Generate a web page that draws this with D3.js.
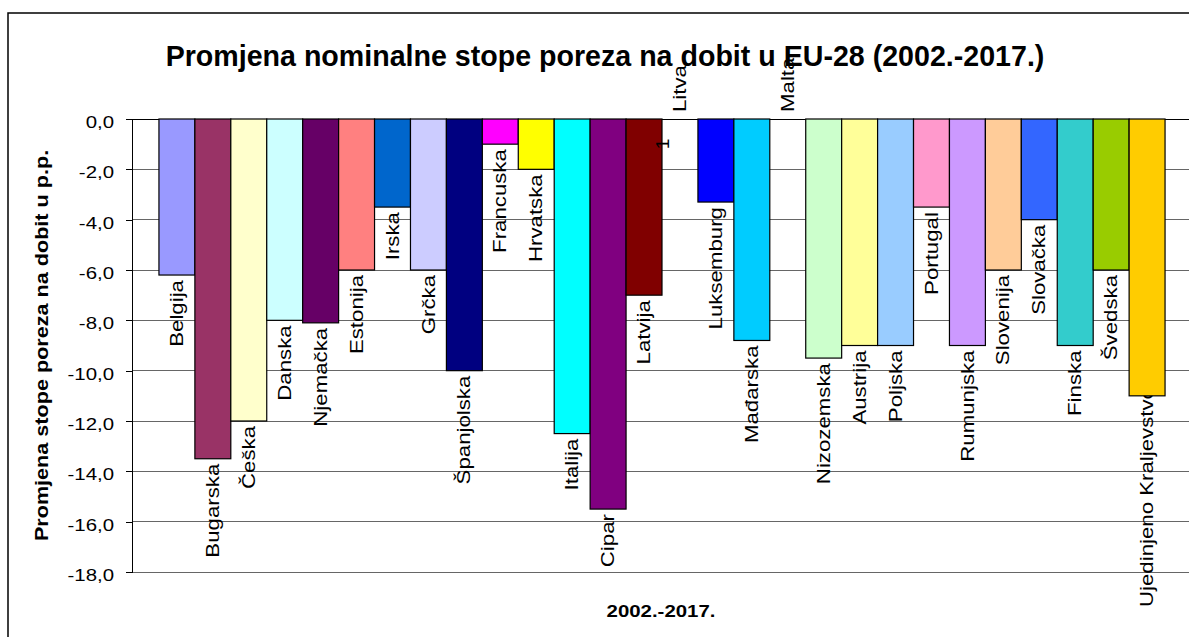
<!DOCTYPE html>
<html>
<head>
<meta charset="utf-8">
<script src="https://cdn.jsdelivr.net/npm/d3@7"></script>
<style>
  body { margin: 0; background: #fff; }
  text { font-family: Arial, "Liberation Sans", sans-serif; fill: #000; }
</style>
</head>
<body>
<svg id="chart" width="1189" height="637"></svg>
<script>
// data
const countries = ["Belgija", "Bugarska", "Češka", "Danska", "Njemačka", "Estonija", "Irska", "Grčka",
  "Španjolska", "Francuska", "Hrvatska", "Italija", "Cipar", "Latvija", "Litva", "Luksemburg",
  "Mađarska", "Malta", "Nizozemska", "Austrija", "Poljska", "Portugal", "Rumunjska", "Slovenija",
  "Slovačka", "Finska", "Švedska", "Ujedinjeno Kraljevstvo"];
const changes = [-6.2, -13.5, -12, -8, -8.1, -6, -3.5, -6, -10, -1, -2, -12.5, -15.5, -7, 0, -3.3,
  -8.8, 0, -9.5, -9, -9, -3.5, -9, -6, -4, -9, -6, -11];
const barColors = ["#9999FF", "#993366", "#FFFFCC", "#CCFFFF", "#660066", "#FF8080", "#0066CC", "#CCCCFF",
  "#000080", "#FF00FF", "#FFFF00", "#00FFFF", "#800080", "#800000", "#008080", "#0000FF",
  "#00CCFF", "#CCFFFF", "#CCFFCC", "#FFFF99", "#99CCFF", "#FF99CC", "#CC99FF", "#FFCC99",
  "#3366FF", "#33CCCC", "#99CC00", "#FFCC00"];
const yTicks = [0, -2, -4, -6, -8, -10, -12, -14, -16, -18];

const titleText = "Promjena nominalne stope poreza na dobit u EU-28 (2002.-2017.)";
const yTitle = "Promjena stope poreza na dobit u p.p.";
const xTitle = "2002.-2017.";

const svg = d3.select('#chart');
const plot = {left: 132, right: 1192, top: 119, bottom: 572};

const x = d3.scaleBand()
  .domain(countries)
  .range([plot.left, plot.right])
  .paddingInner(0)
  .paddingOuter(0.75);
const y = d3.scaleLinear().domain([-18, 0]).range([plot.bottom, plot.top]);

const hr = d3.formatLocale({decimal: ",", thousands: ".", grouping: [3], currency: ["", ""], minus: "-"});
const fmt = hr.format(".1f");

// stretch text a bit, the original font runs wider than Arial
function stretch(sel, k) {
  sel.each(function () {
    const len = this.getComputedTextLength();
    d3.select(this).attr("textLength", len * k).attr("lengthAdjust", "spacingAndGlyphs");
  });
}

// outer frame
svg.append("rect")
  .attr("x", 8).attr("y", 13)
  .attr("width", 1300).attr("height", 700)
  .attr("fill", "none").attr("stroke", "#000").attr("stroke-width", 1.5);

// gridlines
svg.append("g")
  .selectAll("line")
  .data(yTicks)
  .join("line")
  .attr("x1", plot.left).attr("x2", plot.right)
  .attr("y1", d => y(d)).attr("y2", d => y(d))
  .attr("stroke", d => d === 0 ? "#000" : "#666")
  .attr("stroke-width", 1)
  .attr("shape-rendering", "crispEdges");

// axis
const yAxis = svg.append("g")
  .attr("transform", `translate(${plot.left},0)`)
  .call(d3.axisLeft(y).tickValues(yTicks).tickFormat(fmt).tickSize(6).tickPadding(12));
yAxis.select(".domain").attr("stroke", "#000").attr("shape-rendering", "crispEdges");
yAxis.selectAll(".tick line").attr("stroke", "#000").attr("shape-rendering", "crispEdges");
yAxis.selectAll(".tick text")
  .attr("font-family", "Arial, 'Liberation Sans', sans-serif")
  .attr("font-size", 17)
  .attr("dy", "0.5em")
  .attr("fill", "#000")
  .call(stretch, 1.2);

// category labels (drawn under the bars, the last one runs into its bar)
const labelSize = 19;
const labels = svg.append("g")
  .selectAll("text")
  .data(countries)
  .join("text")
  .attr("font-size", labelSize)
  .attr("dy", "0.32em")
  .text(d => d)
  .call(stretch, 1.17);

labels.each(function (d, i) {
  const v = changes[i];
  const len = +this.getAttribute("textLength");
  const cx = x(d) + x.bandwidth() / 2;
  const t = d3.select(this);
  if (v < 0) {
    const yy = Math.min(y(v) + 5, 607 - len);
    t.attr("text-anchor", "end").attr("transform", `translate(${cx},${yy}) rotate(-90)`);
  } else {
    t.attr("text-anchor", "start").attr("transform", `translate(${cx},${y(v) - 7}) rotate(-90)`);
  }
});

// bars
svg.append("g")
  .selectAll("rect")
  .data(countries)
  .join("rect")
  .attr("x", d => x(d))
  .attr("width", x.bandwidth())
  .attr("y", y(0))
  .attr("height", (d, i) => y(changes[i]) - y(0))
  .attr("fill", (d, i) => barColors[i])
  .attr("stroke", (d, i) => changes[i] === 0 ? "none" : "#000")
  .attr("stroke-width", 1.2);

// stray "1" glyph that sits on the Latvija bar edge in the original
svg.append("text")
  .attr("font-size", labelSize)
  .attr("transform", `translate(${x("Latvija") + x.bandwidth() + 7},${y(-1.2)}) rotate(-90)`)
  .text("1");

// titles
svg.append("text")
  .attr("x", 605).attr("y", 66)
  .attr("text-anchor", "middle")
  .attr("font-size", 28.6)
  .attr("font-weight", "bold")
  .text(titleText);

svg.append("text")
  .attr("text-anchor", "middle")
  .attr("font-size", 18)
  .attr("font-weight", "bold")
  .attr("dy", "0.35em")
  .attr("transform", `translate(42,${(plot.top + plot.bottom) / 2}) rotate(-90)`)
  .text(yTitle)
  .call(stretch, 1.2);

svg.append("text")
  .attr("x", 661).attr("y", 617)
  .attr("text-anchor", "middle")
  .attr("font-size", 17)
  .attr("font-weight", "bold")
  .text(xTitle)
  .call(stretch, 1.2);
</script>
</body>
</html>
